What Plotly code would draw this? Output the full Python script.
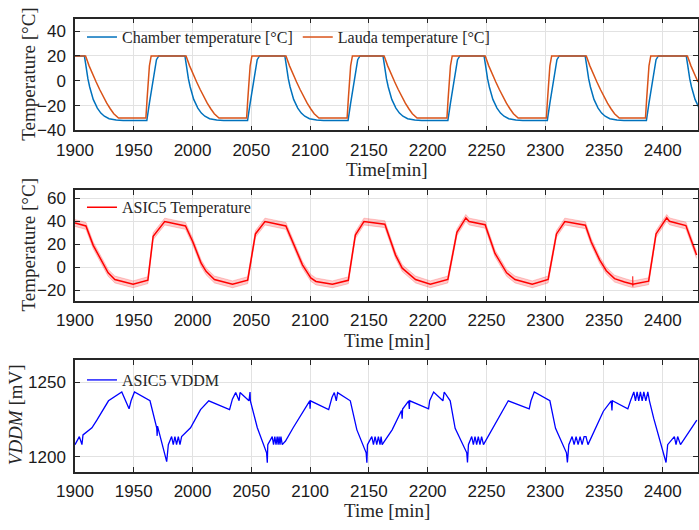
import plotly.graph_objects as go

# ---------------- data ----------------
# Panel 1: chamber and Lauda temperature [°C]
lauda_time = [1900, 1909, 1912, 1915, 1918, 1921, 1924, 1927, 1930, 1933, 1937,
              1960.3, 1961.3, 1962, 1963.3, 1964.8,
              1994.5, 1997.5, 2000.5, 2003.5, 2006.5, 2009.5, 2012.5, 2015.5, 2018.5, 2022.5,
              2046, 2047, 2047.7, 2049, 2050.5,
              2079.5, 2082.5, 2085.5, 2088.5, 2091.5, 2094.5, 2097.5, 2100.5, 2103.5, 2107.5,
              2131.5, 2132.5, 2133.2, 2134.5, 2136,
              2163, 2166, 2169, 2172, 2175, 2178, 2181, 2184, 2187, 2191,
              2216.4, 2217.4, 2218.1, 2219.4, 2220.9,
              2249, 2252, 2255, 2258, 2261, 2264, 2267, 2270, 2273, 2277,
              2301, 2302, 2302.7, 2304, 2305.5,
              2335, 2338, 2341, 2344, 2347, 2350, 2353, 2356, 2359, 2363,
              2385.3, 2386.3, 2387, 2388.3, 2389.8,
              2421, 2424, 2427, 2430]
lauda_temp = [20, 20, 12, 5, -1, -7, -12.8, -18, -22.5, -26.5, -30,
              -30, -15, -2, 12, 20,
              20, 12, 5, -1, -7, -12.8, -18, -22.5, -26.5, -30,
              -30, -15, -2, 12, 20,
              20, 12, 5, -1, -7, -12.8, -18, -22.5, -26.5, -30,
              -30, -15, -2, 12, 20,
              20, 12, 5, -1, -7, -12.8, -18, -22.5, -26.5, -30,
              -30, -15, -2, 12, 20,
              20, 12, 5, -1, -7, -12.8, -18, -22.5, -26.5, -30,
              -30, -15, -2, 12, 20,
              20, 12, 5, -1, -7, -12.8, -18, -22.5, -26.5, -30,
              -30, -15, -2, 12, 20,
              20, 12, 5, -1]

chamber_time = [1900, 1908, 1909, 1910, 1911, 1912.5, 1914, 1915.5, 1917, 1919, 1922, 1925, 1929, 1935, 1941,
                1961.1, 1963.3, 1965.3, 1967.3, 1969.3, 1971.3,
                1993.5, 1994.5, 1995.5, 1996.5, 1998, 1999.5, 2001, 2002.5, 2004.5, 2007.5, 2010.5, 2014.5, 2020.5, 2026.5,
                2046.8, 2049, 2051, 2053, 2055, 2057,
                2078.5, 2079.5, 2080.5, 2081.5, 2083, 2084.5, 2086, 2087.5, 2089.5, 2092.5, 2095.5, 2099.5, 2105.5, 2111.5,
                2132.3, 2134.5, 2136.5, 2138.5, 2140.5, 2142.5,
                2162, 2163, 2164, 2165, 2166.5, 2168, 2169.5, 2171, 2173, 2176, 2179, 2183, 2189, 2195,
                2217.2, 2219.4, 2221.4, 2223.4, 2225.4, 2227.4,
                2248, 2249, 2250, 2251, 2252.5, 2254, 2255.5, 2257, 2259, 2262, 2265, 2269, 2275, 2281,
                2301.8, 2304, 2306, 2308, 2310, 2312,
                2334, 2335, 2336, 2337, 2338.5, 2340, 2341.5, 2343, 2345, 2348, 2351, 2355, 2361, 2367,
                2386.1, 2388.3, 2390.3, 2392.3, 2394.3, 2396.3,
                2420, 2421, 2422, 2423, 2424.5, 2426, 2427.5, 2429, 2431]
chamber_temp = [20, 20, 14, 7, 1.5, -5, -10.5, -15, -18, -22, -26, -28.5, -30.5, -31.6, -32,
                -32, -18, -5, 8, 17, 20,
                20, 14, 7, 1.5, -5, -10.5, -15, -18, -22, -26, -28.5, -30.5, -31.6, -32,
                -32, -18, -5, 8, 17, 20,
                20, 14, 7, 1.5, -5, -10.5, -15, -18, -22, -26, -28.5, -30.5, -31.6, -32,
                -32, -18, -5, 8, 17, 20,
                20, 14, 7, 1.5, -5, -10.5, -15, -18, -22, -26, -28.5, -30.5, -31.6, -32,
                -32, -18, -5, 8, 17, 20,
                20, 14, 7, 1.5, -5, -10.5, -15, -18, -22, -26, -28.5, -30.5, -31.6, -32,
                -32, -18, -5, 8, 17, 20,
                20, 14, 7, 1.5, -5, -10.5, -15, -18, -22, -26, -28.5, -30.5, -31.6, -32,
                -32, -18, -5, 8, 17, 20,
                20, 14, 7, 1.5, -5, -10.5, -15, -18, -22]

# Panel 2: ASIC5 temperature [°C] with uncertainty band
asic_time = [1900, 1909.3, 1915.5, 1921.2, 1928.2, 1933.9, 1949.4, 1962.0, 1966.5, 1976.3,
             1994.0, 2000.3, 2007.3, 2011.5, 2018.6, 2034.0, 2046.9, 2053.5, 2061.6,
             2079.4, 2086.4, 2093.5, 2100.6, 2105.0, 2119.0, 2132.5, 2138.5, 2145.8,
             2163.6, 2172.7, 2178.4, 2189.7, 2202.3, 2217.2, 2224.9, 2232.5, 2235.3,
             2248.9, 2257.3, 2267.2, 2274.3, 2289.0, 2302.5, 2309.6, 2316.7,
             2334.2, 2339.2, 2346.3, 2352.0, 2359.0, 2367.5, 2374.6, 2388.0, 2394.3, 2403.4, 2405.7,
             2419.7, 2428.8]
asic_temp = [38.5, 36.0, 19.0, 7.7, -5.0, -10.8, -15.0, -11.4, 27.0, 39.8,
             36.0, 22.0, 3.4, -3.7, -10.8, -15.0, -11.4, 29.0, 39.8,
             36.0, 19.0, 2.0, -9.4, -12.5, -15.0, -11.5, 28.0, 39.8,
             37.5, 10.5, -0.9, -10.8, -15.0, -10.8, 30.4, 43.0, 39.8,
             37.0, 12.0, -5.0, -10.8, -15.0, -10.8, 29.0, 39.8,
             36.6, 22.0, 6.3, -3.1, -10.0, -12.9, -15.0, -12.3, 29.0, 43.0, 40.0,
             36.3, 10.6]
asic_band_halfwidth = 3.0
asic_spike_time = [2374.5, 2374.6]
asic_spike_temp = [-8.0, -17.0]

# Panel 3: ASIC5 VDDM [mV]
vddm_time = [1900.0, 1903.7, 1905.9, 1906.8, 1914.4, 1918.6, 1928.5, 1939.8, 1946.0, 1947.7, 1950.6,
             1963.8, 1969.5, 1969.9, 1970.2, 1971.5, 1978.0, 1979.4, 1982.2, 1983.6, 1985.0, 1986.4,
             1987.9, 1989.3, 1990.7, 1998.3, 2006.8, 2013.8, 2031.5, 2033.9, 2036.7, 2039.6, 2040.4,
             2048.0, 2048.9, 2049.2, 2055.1, 2063.0, 2063.6, 2064.0, 2067.8, 2068.9, 2070.0, 2071.0,
             2072.0, 2072.8, 2073.6, 2074.4, 2075.2, 2076.3, 2079.1, 2085.6, 2097.5, 2099.7, 2100.0,
             2100.3, 2115.8, 2118.6, 2120.6, 2122.3, 2123.4, 2134.2, 2139.8, 2147.7, 2148.3, 2148.8,
             2152.5, 2153.9, 2155.3, 2156.7, 2158.1, 2159.5, 2160.4, 2161.3, 2169.8, 2177.8, 2178.3,
             2178.7, 2183.9, 2184.4, 2184.8, 2200.8, 2201.7, 2205.1, 2213.0, 2214.1, 2219.2, 2223.4,
             2233.3, 2233.9, 2234.7, 2237.5, 2238.9, 2240.3, 2241.7, 2243.1, 2244.5, 2245.9, 2247.5,
             2268.6, 2286.4, 2287.9, 2290.7, 2304.0, 2308.8, 2318.1, 2318.9, 2320.1, 2322.9, 2324.6,
             2326.3, 2328.0, 2329.7, 2331.4, 2333.1, 2334.7, 2336.4, 2349.5, 2356.2, 2356.8, 2357.2,
             2370.3, 2372.6, 2375.4, 2376.8, 2378.2, 2379.6, 2381.0, 2382.5, 2383.9, 2385.6, 2387.3,
             2388.7, 2392.4, 2402.8, 2404.2, 2409.9, 2411.3, 2412.7, 2415.1, 2429.0]
vddm_mv = [1208.1, 1213.5, 1208.1, 1214.6, 1219.4, 1224.5, 1237.5, 1243.4, 1232.1, 1237.5, 1243.4,
           1237.5, 1219.4, 1214.0, 1220.5, 1216.8, 1196.7, 1208.1, 1213.5, 1208.1, 1213.5, 1208.1,
           1213.5, 1208.1, 1213.5, 1219.4, 1231.6, 1237.5, 1231.6, 1238.6, 1243.0, 1237.5, 1243.0,
           1237.5, 1243.4, 1237.5, 1219.4, 1202.6, 1196.0, 1208.1, 1213.5, 1208.1, 1213.5, 1208.1,
           1213.5, 1208.1, 1213.5, 1208.1, 1213.5, 1208.1, 1210.5, 1219.4, 1234.0, 1237.5, 1232.1,
           1237.5, 1231.6, 1239.7, 1243.0, 1237.5, 1243.0, 1237.5, 1218.0, 1202.6, 1196.0, 1208.1,
           1213.5, 1208.1, 1213.5, 1208.1, 1213.5, 1208.1, 1213.5, 1208.1, 1218.0, 1231.0, 1225.5,
           1232.0, 1237.5, 1232.1, 1237.5, 1232.1, 1237.5, 1243.4, 1237.5, 1243.4, 1237.5, 1219.0,
           1202.6, 1196.1, 1208.1, 1213.5, 1208.1, 1213.5, 1208.1, 1213.5, 1208.1, 1213.5, 1208.1,
           1237.5, 1232.1, 1237.5, 1243.4, 1237.5, 1219.0, 1202.6, 1196.1, 1208.1, 1213.5, 1208.1,
           1213.5, 1208.1, 1213.5, 1208.1, 1213.5, 1213.5, 1208.1, 1230.5, 1237.5, 1231.0, 1237.5,
           1232.1, 1237.5, 1243.4, 1237.5, 1243.4, 1237.5, 1243.4, 1237.5, 1243.4, 1237.5, 1243.4,
           1237.5, 1225.5, 1196.1, 1208.1, 1213.5, 1208.1, 1213.5, 1208.1, 1224.5]

# ---------------- styling ----------------
SERIF = "Liberation Serif"
SANS = "Liberation Sans"
AX = "#262626"
W, H = 700, 530
LEFT = 75
PW = W - LEFT


def px_x(px):
    return (px - LEFT) / PW


def px_y(py):
    return 1 - py / H


fig = go.Figure()

fig.add_trace(go.Scatter(x=chamber_time, y=chamber_temp, mode="lines", name="Chamber temperature [°C]",
                         line=dict(color="#0072BD", width=1.5), xaxis="x", yaxis="y", legend="legend"))
fig.add_trace(go.Scatter(x=lauda_time, y=lauda_temp, mode="lines", name="Lauda temperature [°C]",
                         line=dict(color="#D95319", width=1.5), xaxis="x", yaxis="y", legend="legend"))

upper = [v + asic_band_halfwidth for v in asic_temp]
lower = [v - asic_band_halfwidth for v in asic_temp]
fig.add_trace(go.Scatter(x=asic_time, y=upper, mode="lines", line=dict(color="rgba(255,0,0,0.25)", width=0.8),
                         showlegend=False, hoverinfo="skip", xaxis="x2", yaxis="y2"))
fig.add_trace(go.Scatter(x=asic_time, y=lower, mode="lines", line=dict(color="rgba(255,0,0,0.25)", width=0.8),
                         fill="tonexty", fillcolor="rgba(255,0,0,0.2)",
                         showlegend=False, hoverinfo="skip", xaxis="x2", yaxis="y2"))
fig.add_trace(go.Scatter(x=asic_time, y=asic_temp, mode="lines", name="ASIC5 Temperature",
                         line=dict(color="#FF0000", width=1.5), xaxis="x2", yaxis="y2", legend="legend2"))
fig.add_trace(go.Scatter(x=asic_spike_time, y=asic_spike_temp, mode="lines", showlegend=False,
                         line=dict(color="#FF0000", width=1), xaxis="x2", yaxis="y2"))

fig.add_trace(go.Scatter(x=vddm_time, y=vddm_mv, mode="lines", name="ASIC5 VDDM",
                         line=dict(color="#0000FF", width=1.3), xaxis="x3", yaxis="y3", legend="legend3"))

common = dict(showline=True, linecolor=AX, linewidth=1.5, mirror="ticks", ticks="inside", ticklen=5,
              tickcolor=AX, tickwidth=1, showgrid=True, gridcolor="#e2e2e2", gridwidth=1, zeroline=False,
              tickfont=dict(family=SANS, size=17, color="#1a1a1a"), ticklabelstandoff=4)
xcommon = dict(common, range=[1900, 2430], tick0=1900, dtick=50, ticklabelstandoff=3)
title_font = dict(family=SERIF, size=19, color=AX)

layout = dict(
    width=W, height=H, paper_bgcolor="white", plot_bgcolor="white",
    margin=dict(l=LEFT, r=0, t=0, b=0),
    showlegend=True,
    xaxis=dict(xcommon, anchor="y", domain=[0, 1]),
    xaxis2=dict(xcommon, anchor="y2", domain=[0, 1]),
    xaxis3=dict(xcommon, anchor="y3", domain=[0, 1]),
    yaxis=dict(common, anchor="x", domain=[px_y(133), px_y(19)], range=[-40, 50], tick0=-40, dtick=20),
    yaxis2=dict(common, anchor="x2", domain=[px_y(306.7), px_y(193.5)], range=[-29.5, 67.5], tick0=-20, dtick=20),
    yaxis3=dict(common, anchor="x3", domain=[px_y(480.7), px_y(366.7)], range=[1190, 1265], tick0=1200, dtick=50),
)
legend_common = dict(orientation="h", xanchor="left", yanchor="top", bgcolor="rgba(0,0,0,0)", borderwidth=0,
                     traceorder="normal", font=dict(family=SERIF, size=16, color=AX), itemwidth=30)
lx = px_x(82)
layout["legend"] = dict(legend_common, x=lx, y=px_y(20.5))
layout["legend2"] = dict(legend_common, x=lx, y=px_y(194))
layout["legend3"] = dict(legend_common, x=lx, y=px_y(370))

# white legend backgrounds (between grid and traces)
legend_boxes = [(77, 498, 27, 50), (77, 262, 199, 220), (77, 223, 375, 396)]
layout["shapes"] = [dict(type="rect", xref="paper", yref="paper", layer="between",
                         x0=px_x(a), x1=px_x(b), y0=px_y(d), y1=px_y(c),
                         fillcolor="white", line=dict(width=0)) for a, b, c, d in legend_boxes]

# axis titles (x centre px, y centre px, text, angle)
titles = [(388, 172.5, "Time[min]", 0), (388, 347, "Time [min]", 0), (388, 520, "Time [min]", 0),
          (28, 76, "Temperature [°C]", -90), (28, 250, "Temperature [°C]", -90),
          (15, 423, "<i>VDDM</i> [mV]", -90)]
layout["annotations"] = [dict(text=t, x=px_x(x), y=px_y(y), xref="paper", yref="paper", showarrow=False,
                              xanchor="center", yanchor="middle", textangle=a, font=title_font)
                         for x, y, t, a in titles]

fig.update_layout(**layout)
fig.write_html("out.html", config={"displayModeBar": False},
               post_script="document.body.style.margin='0';document.body.style.overflow='hidden';"
                           "document.documentElement.style.overflow='hidden';")
